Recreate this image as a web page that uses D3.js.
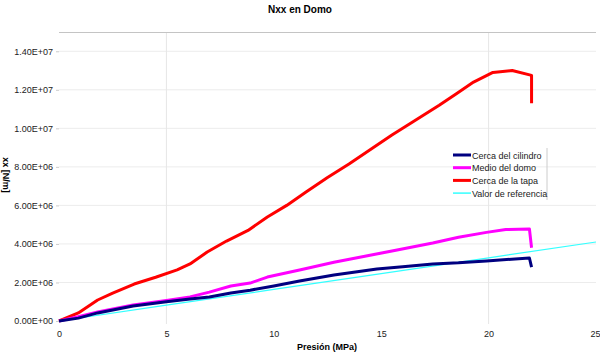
<!DOCTYPE html>
<html>
<head>
<meta charset="UTF-8">
<title>Nxx en Domo</title>
<script src="https://cdn.jsdelivr.net/npm/d3@7"></script>
<style>
  body { margin: 0; background: #fff; }
  svg { font-family: "Liberation Sans", Arial, sans-serif; }
</style>
</head>
<body>
<script>
// datos (presión en MPa, Nxx en N/m)
var xTapa = [0, 0.9, 1.8, 2.5, 3.5, 4.5, 5.5, 6.1, 6.9, 7.8, 8.8, 9.7, 10.6, 11.5, 12.5, 13.5, 14.5, 15.5, 16.5, 17.7, 18.5, 19.3, 20.2, 21.1, 22.0, 22.0];
var yTapa = [0, 0.42e6, 1.09e6, 1.45e6, 1.92e6, 2.27e6, 2.65e6, 2.96e6, 3.58e6, 4.15e6, 4.70e6, 5.40e6, 6.0e6, 6.7e6, 7.45e6, 8.15e6, 8.9e6, 9.65e6, 10.35e6, 11.2e6, 11.8e6, 12.4e6, 12.9e6, 13.0e6, 12.75e6, 11.3e6];

var xMedio = [0, 0.8, 1.8, 3.45, 5.0, 6.1, 7.0, 8.0, 8.9, 9.7, 11.2, 12.8, 14.3, 15.8, 17.4, 18.6, 19.9, 20.8, 21.9, 22.0];
var yMedio = [0, 0.2e6, 0.47e6, 0.83e6, 1.07e6, 1.25e6, 1.5e6, 1.82e6, 1.97e6, 2.28e6, 2.65e6, 3.05e6, 3.37e6, 3.7e6, 4.05e6, 4.35e6, 4.6e6, 4.75e6, 4.78e6, 3.8e6];

var xCilindro = [0, 0.9, 1.8, 3.45, 5.0, 6.1, 7.0, 8.0, 8.9, 10.0, 11.2, 12.8, 14.8, 16.0, 17.4, 18.6, 19.9, 21.9, 22.0];
var yCilindro = [0, 0.15e6, 0.42e6, 0.78e6, 1.0e6, 1.14e6, 1.25e6, 1.45e6, 1.6e6, 1.82e6, 2.08e6, 2.39e6, 2.7e6, 2.82e6, 2.96e6, 3.02e6, 3.12e6, 3.27e6, 2.8e6];

var xRef = [0, 5, 10, 15, 20, 25];
var yRef = [0, 0.82e6, 1.64e6, 2.46e6, 3.28e6, 4.1e6];

var xTicks = [0, 5, 10, 15, 20, 25];
var yTicks = [0, 2e6, 4e6, 6e6, 8e6, 10e6, 12e6, 14e6];
var xGrid = [5, 20];

var series = [
  { name: "Cerca del cilindro", x: xCilindro, y: yCilindro, color: "#000080", w: 3 },
  { name: "Medio del domo", x: xMedio, y: yMedio, color: "#ff00ff", w: 3 },
  { name: "Cerca de la tapa", x: xTapa, y: yTapa, color: "#ff0000", w: 3 },
  { name: "Valor de referencia", x: xRef, y: yRef, color: "#33ffff", w: 1.2 }
];

var width = 600, height = 353;
// márgenes del área de trazado (no usar "top", choca con window.top)
var pLeft = 59, pRight = 596, pTop = 32, pBottom = 321;

var svg = d3.select("body").append("svg")
  .attr("width", width).attr("height", height);

var x = d3.scaleLinear().domain([0, 25]).range([pLeft, pRight]);
var y = d3.scaleLinear().domain([0, 1.5e7]).range([pBottom, pTop]);

// título
svg.append("text")
  .attr("x", 300).attr("y", 13)
  .attr("text-anchor", "middle")
  .style("font-size", "10px").style("font-weight", "bold")
  .text("Nxx en Domo");

// líneas de rejilla
svg.append("g").selectAll("line").data(yTicks.slice(1)).enter().append("line")
  .attr("x1", pLeft).attr("x2", pRight)
  .attr("y1", function (d) { return y(d); }).attr("y2", function (d) { return y(d); })
  .attr("stroke", "#ececec").attr("stroke-width", 1);

svg.append("g").selectAll("line").data(xGrid).enter().append("line")
  .attr("x1", function (d) { return x(d); }).attr("x2", function (d) { return x(d); })
  .attr("y1", pTop).attr("y2", pBottom + 3)
  .attr("stroke", "#e6e6e6").attr("stroke-width", 1);

// línea superior
svg.append("line")
  .attr("x1", pLeft).attr("x2", pRight).attr("y1", pTop + 0.5).attr("y2", pTop + 0.5)
  .attr("stroke", "#c4c4c4").attr("stroke-width", 1);

// ejes
var yAxis = d3.axisLeft(y).tickValues(yTicks).tickSize(3).tickPadding(3)
  .tickFormat(function (d) { return d.toExponential(2).toUpperCase().replace("E+", "E+0"); });
var gy = svg.append("g").attr("transform", "translate(" + pLeft + ",0)").call(yAxis);
gy.select(".domain").remove();
gy.selectAll("line").attr("stroke", "#ccc");
gy.selectAll("text").style("font-size", "9px").attr("fill", "#222");

var xAxis = d3.axisBottom(x).tickValues(xTicks).tickSize(0).tickPadding(10)
  .tickFormat(d3.format("d"));
var gx = svg.append("g").attr("transform", "translate(0," + pBottom + ")").call(xAxis);
gx.select(".domain").remove();
gx.selectAll("text").style("font-size", "9px").attr("fill", "#222");
// el último rótulo queda pegado al borde derecho
gx.selectAll("text").filter(function (d) { return d === 25; }).attr("text-anchor", "end").attr("dx", 4);

// títulos de ejes
svg.append("text")
  .attr("x", 327).attr("y", 350)
  .attr("text-anchor", "middle")
  .style("font-size", "9px").style("font-weight", "bold")
  .text("Presión (MPa)");

svg.append("text")
  .attr("transform", "translate(3,175) rotate(90)")
  .attr("text-anchor", "middle")
  .style("font-size", "9px").style("font-weight", "bold")
  .text("xx [N/m]");

// series
var line = d3.line()
  .x(function (d) { return x(d[0]); })
  .y(function (d) { return y(d[1]); });

svg.append("g").selectAll("path").data(series.slice().reverse()).enter().append("path")
  .attr("d", function (s) { return line(d3.zip(s.x, s.y)); })
  .attr("fill", "none")
  .attr("stroke", function (s) { return s.color; })
  .attr("stroke-width", function (s) { return s.w; })
  .attr("stroke-linejoin", "round");

// leyenda
var legend = svg.append("g").attr("transform", "translate(453,155)");
legend.append("line")
  .attr("x1", 94).attr("x2", 94).attr("y1", -7).attr("y2", 45)
  .attr("stroke", "#ccc");
var item = legend.selectAll("g.item").data(series).enter().append("g")
  .attr("transform", function (d, i) { return "translate(0," + i * 12.7 + ")"; });
item.append("line")
  .attr("x1", 0).attr("x2", 18).attr("y1", 0).attr("y2", 0)
  .attr("stroke", function (d) { return d.color; })
  .attr("stroke-width", function (d) { return d.w === 3 ? 3 : 1.5; });
item.append("text")
  .attr("x", 19).attr("y", 3.5)
  .style("font-size", "9px").attr("fill", "#222")
  .text(function (d) { return d.name; });
</script>
</body>
</html>
